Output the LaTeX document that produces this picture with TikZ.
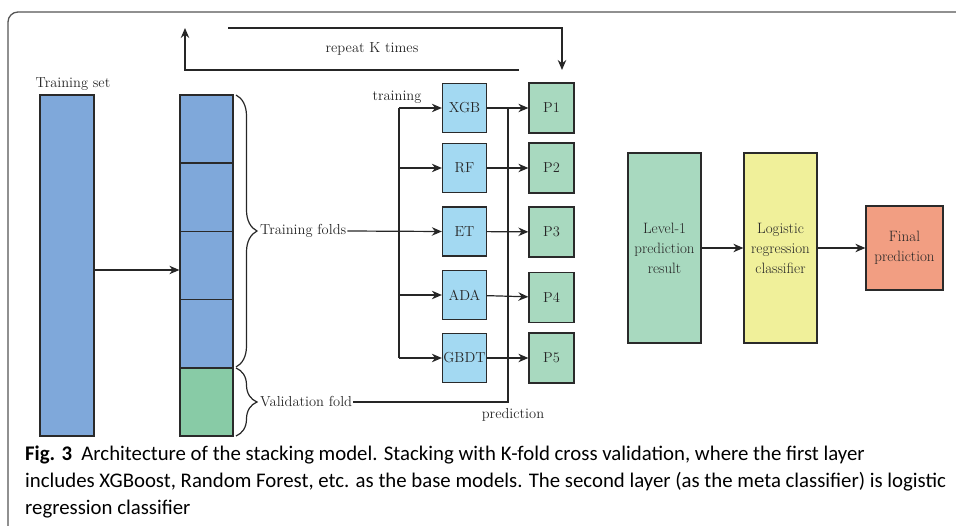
\documentclass[tikz,border=0pt]{standalone}
\usepackage{fontspec}
\newfontfamily\capfont{Carlito}
\usetikzlibrary{arrows.meta,decorations.pathreplacing}
\definecolor{trainblue}{HTML}{7FA8DA}
\definecolor{validgreen}{HTML}{88CBA6}
\definecolor{modelblue}{HTML}{A3D9F2}
\definecolor{pgreen}{HTML}{A8D9BF}
\definecolor{lryellow}{HTML}{F0F09A}
\definecolor{salmon}{HTML}{F29E82}
\definecolor{edge}{HTML}{2A2A2A}
\definecolor{txt}{HTML}{262626}
\definecolor{framegray}{HTML}{555555}
\tikzset{
  box/.style={draw=edge, line width=1.3pt, rectangle, inner sep=0pt, text=txt,
    font=\fontsize{14.5}{16}\selectfont},
  bigbox/.style={box, align=center, font=\fontsize{15}{20}\selectfont},
  lbl/.style={inner sep=1pt, text=txt, font=\fontsize{14.5}{16}\selectfont},
  conn/.style={draw=black!85, line width=1.2pt},
  arr/.style={conn, -{Stealth[length=10pt,width=8.5pt]}},
  brc/.style={draw=black!85, line width=1.2pt, decorate, decoration={brace, amplitude=21pt}}
}
\begin{document}
\begin{tikzpicture}[x=1pt,y=-1pt]
\useasboundingbox (0,0) rectangle (956,526);
% frame
\draw[framegray, line width=1.3pt] (8,530) -- (8,22) arc[start angle=180, end angle=90, radius=10pt] -- (960,12);

% training set
\node[lbl] (tsl) at (73,84) {Training set};
\node[box, fill=trainblue, minimum width=54pt, minimum height=341pt] (ts) at (67,265.5) {};

% folds
\node[box, fill=trainblue, minimum width=53pt, minimum height=68pt] (f1) at (206.5,129) {};
\node[box, fill=trainblue, minimum width=53pt, minimum height=68pt] (f2) at (206.5,197.5) {};
\node[box, fill=trainblue, minimum width=53pt, minimum height=68pt] (f3) at (206.5,265.5) {};
\node[box, fill=trainblue, minimum width=53pt, minimum height=68pt] (f4) at (206.5,333.5) {};
\node[box, fill=validgreen, minimum width=53pt, minimum height=68pt] (f5) at (206.5,402) {};

\draw[arr] (ts.east |- 0,270) -- (f3.west |- 0,270);

% braces
\coordinate (b1s) at (236,95);
\coordinate (b1e) at (236,367);
\coordinate (b2s) at (236,368);
\coordinate (b2e) at (236,436);
\draw[brc] (b1s) -- (b1e);
\draw[brc] (b2s) -- (b2e);

\node[lbl, anchor=west] (tf) at (259,231) {Training folds};
\node[lbl, anchor=west] (vf) at (259,402) {Validation fold};

% base models
\node[box, fill=modelblue, minimum width=44pt, minimum height=49pt] (xgb) at (464.5,108) {XGB};
\node[box, fill=modelblue, minimum width=44pt, minimum height=49pt] (rf) at (464.5,168) {RF};
\node[box, fill=modelblue, minimum width=44pt, minimum height=49pt] (et) at (464.5,231.5) {ET};
\node[box, fill=modelblue, minimum width=44pt, minimum height=49pt] (ada) at (464.5,295) {ADA};
\node[box, fill=modelblue, minimum width=44pt, minimum height=49pt] (gbdt) at (464.5,358) {GBDT};

% predictions
\node[box, fill=pgreen, minimum width=45pt, minimum height=50pt] (p1) at (551.5,108) {P1};
\node[box, fill=pgreen, minimum width=45pt, minimum height=50pt] (p2) at (551.5,168) {P2};
\node[box, fill=pgreen, minimum width=45pt, minimum height=50pt] (p3) at (551.5,232) {P3};
\node[box, fill=pgreen, minimum width=45pt, minimum height=50pt] (p4) at (551.5,297.5) {P4};
\node[box, fill=pgreen, minimum width=45pt, minimum height=50pt] (p5) at (551.5,358) {P5};

% training bus
\coordinate (bus) at (399,0);
\node[lbl] (trl) at (397,97) {training};
\draw[arr] (tf.east) -- (et.west);
\draw[conn] (xgb.west -| bus) -- (gbdt.west -| bus);
\draw[arr] (xgb.west -| bus) -- (xgb.west);
\draw[arr] (rf.west -| bus) -- (rf.west);
\draw[arr] (ada.west -| bus) -- (ada.west);
\draw[arr] (gbdt.west -| bus) -- (gbdt.west);

% model -> prediction
\draw[arr] (xgb) -- (p1);
\draw[arr] (rf) -- (p2);
\draw[arr] (et) -- (p3);
\draw[arr] (ada) -- (p4);
\draw[arr] (gbdt) -- (p5);

% prediction line
\coordinate (pbus) at (508,0);
\draw[conn] (vf.east) -| (xgb.east -| pbus);
\node[lbl] (prl) at (513,415) {prediction};

% repeat loop
\coordinate (r1) at (228,28);
\coordinate (r2) at (562,28);
\coordinate (r2e) at (562,70);
\coordinate (r3) at (519,70);
\coordinate (r4) at (185,70);
\coordinate (r4e) at (185,28);
\draw[arr] (r1) -- (r2) -- (r2e);
\draw[arr] (r3) -- (r4) -- (r4e);
\node[lbl] (rk) at (372,49) {repeat K times};

% level 2
\node[bigbox, fill=pgreen, minimum width=73pt, minimum height=190pt] (lv1) at (664.5,248) {Level-1\\prediction\\result};
\node[bigbox, fill=lryellow, minimum width=73pt, minimum height=190pt] (lr) at (780.5,248) {Logistic\\regression\\classifier};
\node[bigbox, fill=salmon, minimum width=77pt, minimum height=84pt] (fp) at (904.5,248) {Final\\prediction};
\draw[arr] (lv1) -- (lr);
\draw[arr] (lr) -- (fp);

% caption
\node[anchor=north west, inner sep=0pt, align=left, font=\capfont\fontsize{20.8}{27}\selectfont] (cap) at (25,446)
{\textbf{Fig. 3}\hspace{0.45em}Architecture of the stacking model. Stacking with K-fold cross validation, where the first layer\\
includes XGBoost, Random Forest, etc. as the base models. The second layer (as the meta classifier) is logistic\\
regression classifier};
\end{tikzpicture}
\end{document}
